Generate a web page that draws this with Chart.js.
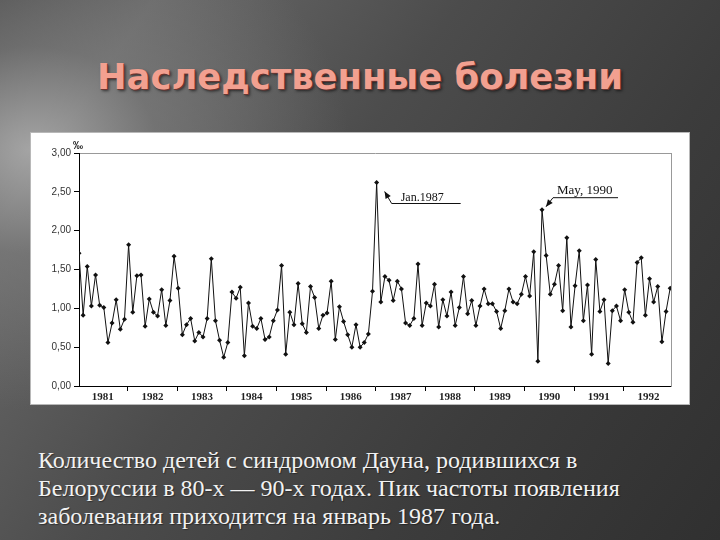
<!DOCTYPE html>
<html><head><meta charset="utf-8">
<script src="https://cdn.jsdelivr.net/npm/chart.js@4/dist/chart.umd.min.js"></script>
<style>
html,body{margin:0;padding:0;}
body{width:720px;height:540px;overflow:hidden;position:relative;
background:
 radial-gradient(ellipse 320px 260px at 30px 150px, rgba(175,175,175,0.85) 0%, rgba(130,130,130,0.55) 40%, rgba(90,90,90,0) 100%),
 linear-gradient(125deg, #4a4a4a 0%, #686868 14%, #4c4c4c 42%, #3c3c3c 70%, #303030 100%);}
#title{position:absolute;left:0;width:720px;top:60px;text-align:center;font-weight:bold;font-family:"DejaVu Sans",Verdana,sans-serif;font-size:33px;line-height:33px;color:#f2a090;text-shadow:1px 1px 0 #6e3530, 2px 2px 3px rgba(0,0,0,0.6);white-space:nowrap}
#box{position:absolute;left:31px;top:133px;width:658px;height:271px;background:#fff;box-shadow:0 0 0 1px #b8b8b8;}
#box canvas{position:absolute;left:0;top:0;}
#caption{position:absolute;left:38px;top:446px;font-family:"Liberation Serif","Times New Roman",serif;font-size:22px;color:#f2f2f2;line-height:28px;white-space:nowrap;text-shadow:1px 1px 1px rgba(0,0,0,0.4)}
</style></head>
<body>
<div id="title">Наследственные болезни</div>
<div id="box"><canvas id="c" width="658" height="271"></canvas></div>
<div id="caption"><span id="l1">Количество детей с синдромом Дауна, родившихся в</span><br><span>Белоруссии в 80-х — 90-х годах. Пик частоты появления</span><br><span>заболевания приходится на январь 1987 года.</span></div>
<script>
// ---- data (per-mille, monthly) ----
const years = [1981,1982,1983,1984,1985,1986,1987,1988,1989,1990,1991,1992];
const y1981 = [1.71,0.91,1.54,1.03,1.43,1.04,1.01,0.56,0.81,1.11,0.73,0.86];
const y1982 = [1.82,0.95,1.42,1.43,0.77,1.12,0.95,0.90,1.24,0.78,1.10,1.67];
const y1983 = [1.26,0.66,0.79,0.87,0.58,0.69,0.63,0.87,1.64,0.84,0.59,0.37];
const y1984 = [0.56,1.21,1.13,1.27,0.39,1.07,0.77,0.74,0.87,0.60,0.63,0.84];
const y1985 = [0.98,1.55,0.41,0.95,0.79,1.32,0.80,0.69,1.28,1.14,0.74,0.91];
const y1986 = [0.94,1.35,0.60,1.02,0.83,0.66,0.50,0.79,0.50,0.56,0.67,1.22];
const y1987 = [2.62,1.08,1.41,1.36,1.10,1.35,1.25,0.81,0.78,0.87,1.57,0.78];
const y1988 = [1.07,1.03,1.31,0.76,1.11,0.90,1.21,0.78,1.01,1.41,0.93,1.10];
const y1989 = [0.78,1.03,1.25,1.06,1.06,0.96,0.74,0.97,1.25,1.08,1.06,1.18];
const y1990 = [1.41,1.16,1.73,0.32,2.27,1.68,1.18,1.31,1.55,0.97,1.91,0.76];
const y1991 = [1.29,1.74,0.84,1.30,0.41,1.63,0.96,1.11,0.29,0.97,1.03,0.84];
const y1992 = [1.24,0.95,0.82,1.59,1.65,0.91,1.38,1.08,1.28,0.57,0.96,1.26];
const yTickLabels = ['0,00','0,50','1,00','1,50','2,00','2,50','3,00'];
const unitLabel = '‰';
const notes = [
  {year:1987, month:1, text:'Jan.1987'},
  {year:1990, month:5, text:'May, 1990'}
];

const monthly = [].concat(y1981,y1982,y1983,y1984,y1985,y1986,y1987,y1988,y1989,y1990,y1991,y1992);
const points = monthly.map((v,i)=>({x:i,y:v}));
const labelMap = {};
const tickVals = [];
years.forEach((yr,i)=>{
  const c = i*12+5.75; labelMap[c]=String(yr); tickVals.push(c);
  if(i>0) tickVals.push(i*12-0.25);
});
tickVals.sort((a,b)=>a-b);

// fit title and caption widths
(function(){
  const m = document.createElement('canvas').getContext('2d');
  const t = document.getElementById('title');
  m.font = 'bold 33px "DejaVu Sans"';
  const w = m.measureText(t.textContent).width;
  const fsT = Math.min(36, 33*526/w);
  t.style.fontSize = fsT+'px';
  m.font = '22px "Liberation Serif"';
  const w1 = m.measureText(document.getElementById('l1').textContent).width;
  const fs = 22*540/w1;
  document.getElementById('caption').style.fontSize = fs+'px';
})();

const annot = {
  id:'annot',
  afterDatasetsDraw(chart){
    const ctx = chart.ctx, xs = chart.scales.x, ys = chart.scales.y, ca = chart.chartArea;
    ctx.save();
    ctx.fillStyle = '#111';
    ctx.font = 'bold 10px "Liberation Sans"';
    ctx.textBaseline = 'middle';
    ctx.fillText(unitLabel, ca.left-6, ca.top-7);
    function callout(n, tdx, tdy, edx, edy, endDx, txDx, txDy, font){
      const idx = years.indexOf(n.year)*12 + n.month - 1;
      const px = xs.getPixelForValue(idx), py = ys.getPixelForValue(monthly[idx]);
      const tx = px+tdx, ty = py+tdy, ex = px+edx, ey = py+edy;
      ctx.strokeStyle = '#111'; ctx.lineWidth = 1;
      ctx.beginPath(); ctx.moveTo(tx,ty); ctx.lineTo(ex,ey); ctx.lineTo(px+endDx,ey); ctx.stroke();
      const a = Math.atan2(ty-ey, tx-ex), L = 7, W = 3;
      ctx.beginPath();
      ctx.moveTo(tx,ty);
      ctx.lineTo(tx - L*Math.cos(a) + W*Math.sin(a), ty - L*Math.sin(a) - W*Math.cos(a));
      ctx.lineTo(tx - L*Math.cos(a) - W*Math.sin(a), ty - L*Math.sin(a) + W*Math.cos(a));
      ctx.closePath(); ctx.fill();
      ctx.font = font; ctx.textBaseline = 'alphabetic'; ctx.textAlign='left';
      ctx.fillText(n.text, px+txDx, py+txDy);
    }
    callout(notes[0], 8, 9, 15, 21, 84, 24, 18, '12px "Liberation Serif"');
    callout(notes[1], 4, -3, 11, -12, 76, 15, -16, '13px "Liberation Serif"');
    ctx.restore();
  }
};

new Chart(document.getElementById('c'), {
  type:'line',
  data:{datasets:[{data:points, borderColor:'#111', borderWidth:1, tension:0,
    pointStyle:'rectRot', pointRadius:2.5, pointBackgroundColor:'#111', pointBorderColor:'#111', pointBorderWidth:0}]},
  options:{
    responsive:false, animation:false, events:[],
    plugins:{legend:{display:false}, tooltip:{enabled:false}},
    layout:{padding:{top:20,left:0,right:0,bottom:0}},
    scales:{
      x:{type:'linear', min:0, max:143.2,
        afterBuildTicks:s=>{ s.ticks = tickVals.map(v=>({value:v})); },
        ticks:{autoSkip:false, maxRotation:0, padding:0, color:'#222',
          font:{family:'Liberation Serif', weight:'bold', size:11},
          callback:(v)=> labelMap[v] || ''},
        grid:{drawOnChartArea:false, tickLength:5,
          tickColor:c=> (c.tick && labelMap[c.tick.value]) ? 'rgba(0,0,0,0)' : '#000'},
        border:{color:'#000', width:1},
        afterFit:s=>{ s.height = 18; }},
      y:{min:0, max:3,
        ticks:{stepSize:0.5, padding:3, color:'#333', font:{family:'Liberation Sans', size:10},
          callback:(v)=> yTickLabels[Math.round(v*2)]},
        grid:{color:c=> (c.tick && c.tick.value===3) ? '#999' : 'rgba(0,0,0,0)', tickColor:'#000', tickLength:5},
        border:{color:'#000', width:1},
        afterFit:s=>{ s.width = 48; }},
      yR:{position:'right', min:0, max:3,
        ticks:{display:false},
        grid:{drawOnChartArea:false, drawTicks:false},
        border:{color:'#999', width:1},
        afterFit:s=>{ s.width = 18; }}
    }
  },
  plugins:[annot]
});
</script>
</body></html>
